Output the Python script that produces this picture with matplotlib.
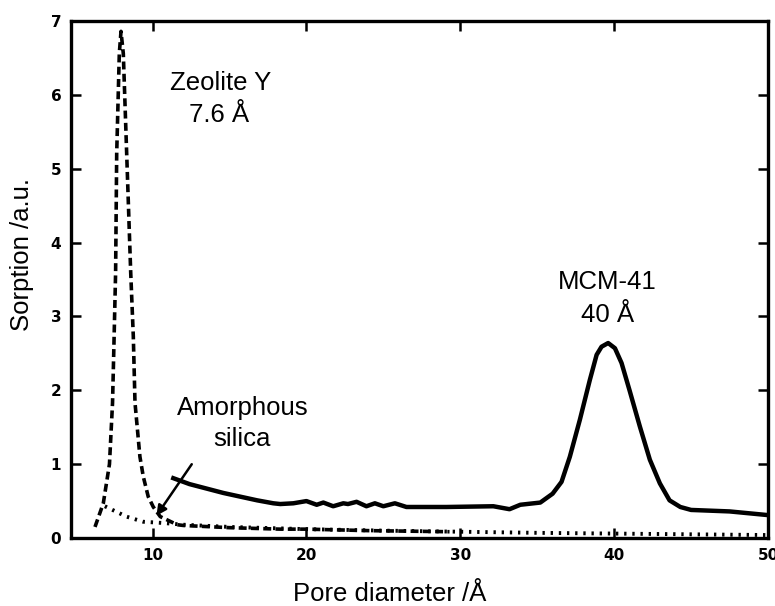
import matplotlib.pyplot as plt
import numpy as np

plt.rcParams['font.family'] = ['Liberation Sans', 'DejaVu Sans']

# pore diameter (A) / sorption (a.u.)
zeo_x = [6.26, 6.8, 7.2, 7.4, 7.5, 7.6, 7.67, 7.84, 7.95, 8.1, 8.32, 8.58, 8.75, 8.86,
         9.18, 9.4, 9.72, 10.05, 10.5, 10.9, 11.6, 12.0, 15.0, 18.3, 20.0, 24.0, 29.3]
zeo_y = [0.15, 0.47, 1.0, 1.83, 2.7, 3.6, 5.2, 6.56, 6.86, 6.56, 5.2, 3.6, 2.73, 1.83,
         1.1, 0.83, 0.56, 0.42, 0.29, 0.25, 0.18, 0.17, 0.14, 0.12, 0.12, 0.1, 0.085]

amor_x = [6.9, 7.2, 8.3, 9.4, 10.2, 10.9, 12.0, 15.0, 20.0, 25.0, 30.0, 35.0, 40.0, 45.0, 50.0]
amor_y = [0.43, 0.40, 0.29, 0.22, 0.21, 0.2, 0.18, 0.15, 0.12, 0.1, 0.085, 0.07, 0.06, 0.05, 0.04]

mcm_x = [11.35, 12.4, 13.5, 14.6, 15.7, 16.8, 17.85, 18.3, 19.15, 20.0, 20.67, 21.1, 21.74,
         22.4, 22.7, 23.26, 23.9, 24.45, 25.0, 25.75, 26.5, 29.1, 32.15, 33.2, 33.9, 35.2,
         36.0, 36.58, 37.12, 37.77, 38.42, 38.86, 39.18, 39.61, 40.05, 40.48, 41.0, 41.67,
         42.32, 42.97, 43.6, 44.3, 45.0, 47.5, 50.0]
mcm_y = [0.81, 0.73, 0.67, 0.61, 0.56, 0.51, 0.47, 0.46, 0.47, 0.50, 0.45, 0.48, 0.43,
         0.47, 0.46, 0.49, 0.43, 0.47, 0.43, 0.47, 0.42, 0.42, 0.43, 0.39, 0.45, 0.48,
         0.60, 0.76, 1.10, 1.60, 2.14, 2.48, 2.59, 2.64, 2.57, 2.37, 2.0, 1.51,
         1.06, 0.74, 0.51, 0.42, 0.38, 0.36, 0.31]

fig = plt.figure(figsize=(7.75, 6.06), dpi=100)
ax = fig.add_axes([0.0916, 0.1122, 0.8994, 0.8531])

ax.plot(zeo_x, zeo_y, color='black', lw=2.6, ls=(0, (2.2, 1.2)))
ax.plot(amor_x, amor_y, color='black', lw=2.8, ls=(0, (0.6, 1.5)))
ax.plot(mcm_x, mcm_y, color='black', lw=3.2, solid_joinstyle='round')

ax.set_xlim(4.7, 50)
ax.set_ylim(0, 7)
ax.set_xticks([10, 20, 30, 40, 50])
ax.set_yticks(range(8))

for s in ax.spines.values():
    s.set_linewidth(2.4)
ax.tick_params(direction='in', length=7, width=1.8, top=True, right=True,
               labelsize=11, pad=7)
for lab in ax.get_xticklabels() + ax.get_yticklabels():
    lab.set_family('DejaVu Sans')
    lab.set_fontweight('heavy')

# axis titles placed at the reference pixel positions
fig.text(390 / 775, 1 - 601 / 606, 'Pore diameter /Å', fontsize=18.5,
         ha='center', va='baseline')
fig.text(22 / 775, 1 - 255 / 606, 'Sorption /a.u.', fontsize=18.5,
         ha='center', va='center', rotation=90)

ax.text(14.41, 6.07, 'Zeolite Y', fontsize=18.5, ha='center', va='baseline')
ax.text(14.35, 5.63, '7.6 Å', fontsize=18.5, ha='center', va='baseline')
ax.text(39.56, 3.37, 'MCM-41', fontsize=18.5, ha='center', va='baseline')
ax.text(39.6, 2.93, '40 Å', fontsize=18.5, ha='center', va='baseline')
ax.text(15.88, 1.665, 'Amorphous', fontsize=18.5, ha='center', va='baseline')
ax.text(15.81, 1.245, 'silica', fontsize=18.5, ha='center', va='baseline')
ax.annotate('', xy=(10.15, 0.27), xytext=(12.65, 1.03),
            arrowprops=dict(arrowstyle='-|>', color='black', lw=1.8,
                            mutation_scale=15))

fig.savefig('out.png', dpi=100)
